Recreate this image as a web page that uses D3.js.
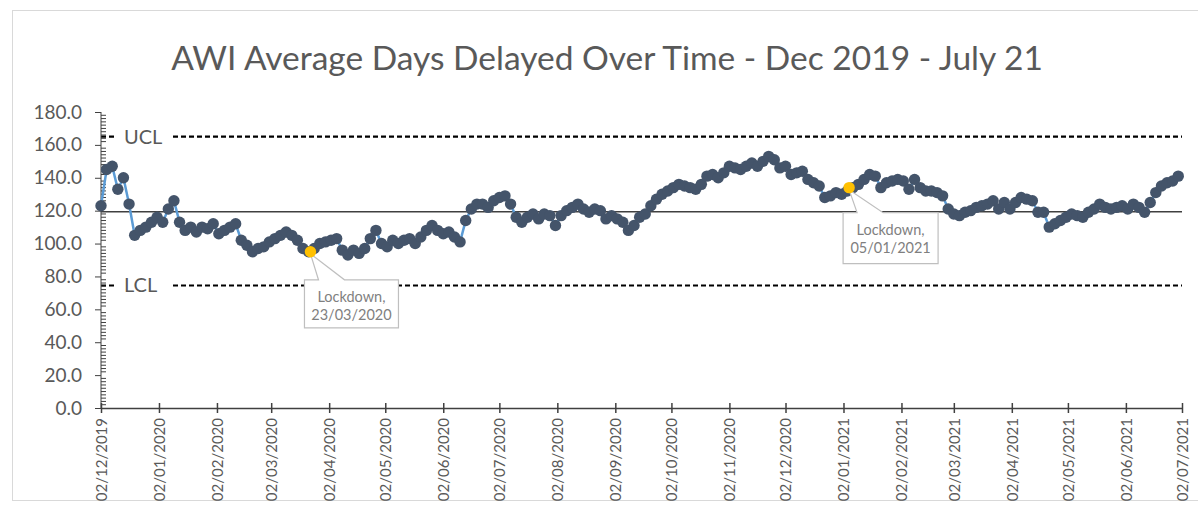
<!DOCTYPE html>
<html><head><meta charset="utf-8">
<script src="https://cdn.jsdelivr.net/npm/d3@7"></script>
<style>body{margin:0;background:#fff;} svg{display:block;font-family:Lato,"Open Sans",sans-serif;}</style>
</head><body><svg id="c" width="1198" height="506"></svg>
<script>
// ---- data ----
const title = "AWI Average Days Delayed Over Time - Dec 2019 - July 21";
const startDate = "2019-12-02";
const stepDays = 3;
const values = [
 123,145,147,133,140,124,105,108,110,113,116,113,121,126,113,108,110,107,110,109,
 112,106,108,110,112,102,99,95,97,98,101,103,105,107,105,102,97,95,97,100,
 101,102,103,96,93,96,94,97,103,108,100,98,102,100,102,103,100,104,108,111,
 108,106,107,104,101,114,121,124,124,122,126,128,129,124,116,113,116,118,115,118,
 117,111,117,120,122,124,121,119,121,120,115,117,115,113,108,111,116,118,123,127,
 130,132,134,136,135,134,133,136,141,142,140,143,147,146,145,147,149,147,150,153,
 151,146,147,142,143,144,139,137,135,128,129,131,130,132,134,136,139,142,141,134,
 137,138,139,138,133,139,134,132,132,131,129,121,118,117,119,120,122,123,124,126,
 121,125,121,125,128,127,126,119,119,110,112,114,116,118,117,116,119,121,124,122,
 121,122,123,121,124,122,119,125,131,135,137,138,141
];
const tickDates = ["2019-12-02","2020-01-02","2020-02-02","2020-03-02","2020-04-02","2020-05-02",
 "2020-06-02","2020-07-02","2020-08-02","2020-09-02","2020-10-02","2020-11-02","2020-12-02",
 "2021-01-02","2021-02-02","2021-03-02","2021-04-02","2021-05-02","2021-06-02","2021-07-02"];
const yTicks = [0,20,40,60,80,100,120,140,160,180];
const limitNames = ["UCL","Mean","LCL"];
const limitValues = [165.0,119.4,74.5];
const highlightDates = ["2020-03-23","2021-01-05"];
const highlightValues = [95,134];
const highlightLabels = [["Lockdown,","23/03/2020"],["Lockdown,","05/01/2021"]];

// ---- chart ----
const parse = d3.utcParse("%Y-%m-%d");
const t0 = parse(startDate);
const data = values.map((v,i)=>({date:d3.utcDay.offset(t0,i*stepDays), value:v}));
const svg = d3.select("#c");
const gray = "#595959";

svg.append("rect").attr("x",12.5).attr("y",10.5).attr("width",1190).attr("height",490)
  .attr("fill","#fff").attr("stroke","#d9d9d9");

const x = d3.scaleUtc().domain([parse(tickDates[0]), parse(tickDates[tickDates.length-1])]).range([101,1182]);
const y = d3.scaleLinear().domain([0,180]).range([408,112]);

svg.append("text").attr("x",607).attr("y",70).attr("text-anchor","middle")
  .attr("font-size",33.5).attr("fill",gray).text(title);

// limit lines
const limG = svg.append("g");
limitNames.forEach((n,i)=>{
  const yy = y(limitValues[i]);
  const ln = limG.append("line").attr("x1",101).attr("x2",1182).attr("y1",yy).attr("y2",yy);
  if(n==="Mean"){ ln.attr("stroke","#404040").attr("stroke-width",1.5); }
  else {
    ln.attr("stroke","#000").attr("stroke-width",2.2).attr("stroke-dasharray","5,3");
    limG.append("rect").attr("x",117).attr("y",yy-10).attr("width",55).attr("height",20).attr("fill","#fff");
    limG.append("text").attr("x",124).attr("y",yy).attr("dy","0.35em").attr("font-size",20)
      .attr("fill",gray).text(n);
  }
});

// y axis
const yAxis = svg.append("g").attr("transform","translate(101,0)")
  .call(d3.axisLeft(y).tickValues(yTicks).tickFormat(d3.format(".1f")).tickSize(6).tickPadding(13));
yAxis.selectAll("text").attr("font-size",19).attr("fill",gray).attr("font-family","Lato");
yAxis.selectAll("line,path").attr("stroke","#404040");
yAxis.select(".domain").attr("d","M0,112V408");
svg.append("g").selectAll("line").data(d3.range(0,181,2).filter(v=>v%20!==0)).join("line")
  .attr("x1",101).attr("x2",106).attr("y1",d=>y(d)).attr("y2",d=>y(d)).attr("stroke","#404040");

// x axis
const xAxis = svg.append("g").attr("transform","translate(0,408)")
  .call(d3.axisBottom(x).tickValues(tickDates.map(parse)).tickFormat(d3.utcFormat("%d/%m/%Y")).tickSize(5).tickSizeOuter(0));
xAxis.selectAll(".tick line").attr("y1",-5);
xAxis.selectAll("line,path").attr("stroke","#404040").attr("stroke-width",1.5);
xAxis.selectAll("text").attr("font-size",15).attr("fill",gray).attr("font-family","Lato")
  .attr("transform","rotate(-90)").attr("text-anchor","end").attr("x",-10).attr("y",0).attr("dy","0.35em");

// series
svg.append("path").datum(data).attr("fill","none").attr("stroke","#5B9BD5").attr("stroke-width",2.5)
  .attr("d",d3.line().x(d=>x(d.date)).y(d=>y(d.value)));
svg.append("g").selectAll("circle").data(data).join("circle")
  .attr("cx",d=>x(d.date)).attr("cy",d=>y(d.value)).attr("r",5.7).attr("fill","#44546A");

// callouts
const hl = highlightDates.map((d,i)=>({date:parse(d), value:highlightValues[i], label:highlightLabels[i]}));
const boxes = [{dx:-6,dy:28,w:94,h:48},{dx:-6,dy:25,w:95,h:51}];
hl.forEach((h,i)=>{
  const px = x(h.date), py = y(h.value), b = boxes[i];
  const bx = px + b.dx, by = py + b.dy;
  const g = svg.append("g");
  g.append("path").attr("d",`M${bx+14},${by} L${px},${py+2} L${bx+40},${by} L${bx+b.w},${by} L${bx+b.w},${by+b.h} L${bx},${by+b.h} L${bx},${by} Z`)
    .attr("fill","#fff").attr("stroke","#bfbfbf").attr("stroke-width",1.2);
  h.label.forEach((t,j)=>{
    g.append("text").attr("x",bx+b.w/2).attr("y",by+17+j*18).attr("dy","0.35em")
      .attr("text-anchor","middle").attr("font-size",14.5).attr("fill","#7f7f7f").text(t);
  });
  svg.append("circle").attr("cx",px).attr("cy",py).attr("r",5.7).attr("fill","#FFC000");
});
</script></body></html>
